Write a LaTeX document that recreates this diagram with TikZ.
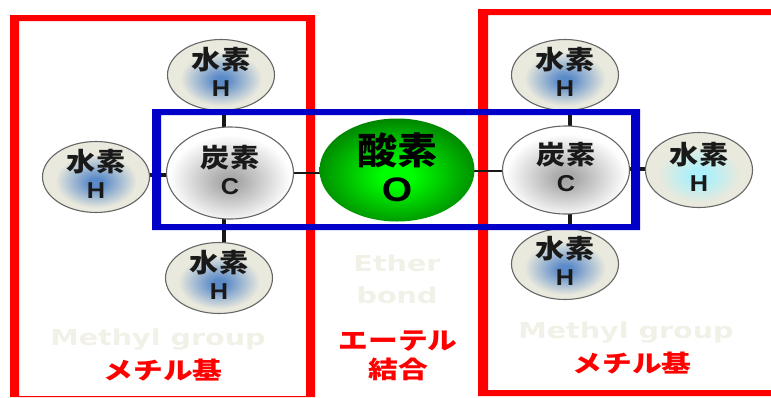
\documentclass[tikz,border=0pt]{standalone}
\usepackage{fontspec}
\setmainfont{Liberation Sans}
\newfontfamily\cjk{Noto Sans CJK JP}
\newfontfamily\paleface{DejaVu Sans}
\usetikzlibrary{shapes.geometric}
\pgfdeclarelayer{background}
\pgfsetlayers{background,main}
\definecolor{boxred}{HTML}{FF0000}
\definecolor{boxblue}{HTML}{0000C8}
\definecolor{paletext}{HTML}{F1F1E8}
\definecolor{hbeige}{HTML}{E9E9DD}
\definecolor{hblue}{HTML}{5A8AC8}
\definecolor{hcyan}{HTML}{ABF0FA}
\definecolor{ogreen}{HTML}{00FF00}
\definecolor{odark}{HTML}{006400}
\pgfdeclareradialshading{hydrogen}{\pgfpoint{0bp}{-4bp}}{color(0bp)=(hblue); color(3bp)=(hblue); color(19bp)=(hbeige); color(60bp)=(hbeige)}
\pgfdeclareradialshading{hydrogencyan}{\pgfpoint{0bp}{-4bp}}{color(0bp)=(hcyan); color(4bp)=(hcyan); color(19bp)=(hbeige); color(60bp)=(hbeige)}
\pgfdeclareradialshading{carbon}{\pgfpoint{0bp}{-5bp}}{color(0bp)=(black!35); color(4bp)=(black!33); color(24bp)=(white); color(70bp)=(white)}
\pgfdeclareradialshading{oxygen}{\pgfpoint{0bp}{-3bp}}{color(0bp)=(ogreen); color(5bp)=(ogreen); color(33bp)=(odark); color(70bp)=(odark)}
\newcommand{\jalabel}[1]{\scalebox{1.12}[1]{\cjk\bfseries\fontsize{26}{28}\selectfont #1}}
\newcommand{\enbold}[1]{\scalebox{1.1}[1]{\bfseries\fontsize{23}{28}\selectfont #1}\rule[-6pt]{0pt}{6pt}}
\newcommand{\redtxt}[1]{\scalebox{1.24}[1]{\cjk\bfseries\fontsize{24}{28}\selectfont #1}}
\newcommand{\paletxt}[1]{\scalebox{1.3}[1]{\paleface\bfseries\fontsize{22}{26}\selectfont #1}}
\tikzset{
  x=1pt,y=-1pt,
  atom/.style={ellipse,draw=black!60,line width=1.1pt,inner sep=-14pt,align=center,text=black!90},
  hatom/.style={atom,shading=hydrogen,minimum width=107pt,minimum height=71pt},
  catom/.style={atom,shading=carbon,minimum width=127pt,minimum height=92pt},
  oatom/.style={ellipse,shading=oxygen,inner sep=-14pt,align=center,minimum width=155pt,minimum height=103pt},
  bondthick/.style={draw=black!90,line width=3.5pt},
  bondthin/.style={draw=black!90,line width=2.2pt},
  redlabel/.style={inner sep=0pt,text=boxred,align=center},
  palelabel/.style={inner sep=0pt,text=paletext,align=center},
}
\begin{document}
\begin{tikzpicture}
\useasboundingbox (0,0) rectangle (771,397);
% atoms
\node[hatom] (h1) at (221,75) {\jalabel{水素}\\[7pt]\enbold{H}};
\node[hatom] (h2) at (96,177) {\jalabel{水素}\\[7pt]\enbold{H}};
\node[hatom] (h3) at (219,278) {\jalabel{水素}\\[7pt]\enbold{H}};
\node[catom] (c1) at (230,173) {\jalabel{炭素}\\[7pt]\enbold{C}};
\node[oatom] (o) at (397,170) {\scalebox{1.08}[1]{\cjk\bfseries\fontsize{37}{40}\selectfont 酸素}\\[9pt]\scalebox{1.15}[1]{\bfseries\fontsize{34}{38}\selectfont O}\rule[-6pt]{0pt}{6pt}};
\node[catom,minimum height=88pt] (c2) at (566,170) {\jalabel{炭素}\\[7pt]\enbold{C}};
\node[hatom] (h4) at (565,75) {\jalabel{水素}\\[7pt]\enbold{H}};
\node[hatom] (h5) at (565,264) {\jalabel{水素}\\[7pt]\enbold{H}};
\node[hatom,shading=hydrogencyan,minimum height=75pt] (h6) at (699,170) {\jalabel{水素}\\[7pt]\enbold{H}};
% labels
\node[palelabel] (m1) at (158,340) {\paletxt{Methyl group}};
\node[palelabel] (m2) at (626,333) {\paletxt{Methyl group}};
\node[palelabel] (e1) at (397,263) {\paletxt{Ether}};
\node[palelabel] (e2) at (397,295) {\paletxt{bond}};
\node[redlabel] (r1) at (163,370) {\redtxt{メチル基}};
\node[redlabel] (r2) at (632,363) {\redtxt{メチル基}};
\node[redlabel] (r3) at (398,341) {\redtxt{エーテル}};
\node[redlabel] (r4) at (398,369) {\redtxt{結合}};
% bond x/y guides
\coordinate (bxl) at (224,0);
\coordinate (bxr) at (570,0);
\coordinate (byl) at (0,175);
\coordinate (byr) at (0,169);
\coordinate (bcl) at (0,173);
\coordinate (bcr) at (0,171);
\begin{pgfonlayer}{background}
  \fill[boxred,even odd rule] (10,15) rectangle (315,397) (19,21) rectangle (306,396);
  \fill[boxred,even odd rule] (478,9) rectangle (771,396) (488,15) rectangle (772,390);
  \draw[bondthick] (bxl |- h1) -- (bxl |- c1);
  \draw[bondthick] (bxl |- c1) -- (bxl |- h3);
  \draw[bondthick] (h2 |- byl) -- (c1 |- byl);
  \draw[bondthin] (c1 |- bcl) -- (o |- bcl);
  \draw[bondthin] (o |- bcr) -- (c2 |- bcr);
  \draw[bondthick] (bxr |- h4) -- (bxr |- c2);
  \draw[bondthick] (bxr |- c2) -- (bxr |- h5);
  \draw[bondthick] (c2 |- byr) -- (h6 |- byr);
\end{pgfonlayer}
% ether frame
\fill[boxblue,even odd rule] (152,109) rectangle (640,230) (161,115) rectangle (631,224);
\end{tikzpicture}
\end{document}
